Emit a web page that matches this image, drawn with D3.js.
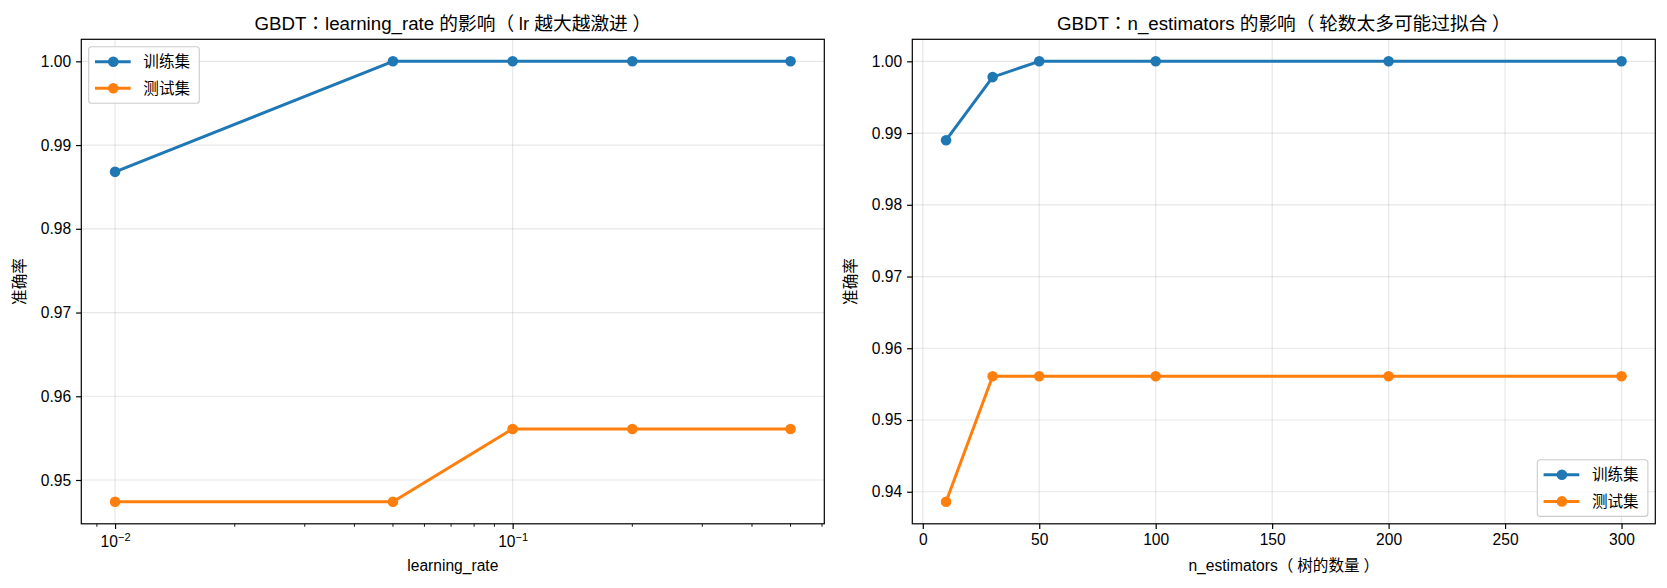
<!DOCTYPE html>
<html>
<head>
<meta charset="utf-8">
<script src="https://cdn.jsdelivr.net/npm/d3@7"></script>
<style>
  body { margin: 0; background: #fff; }
  text { font-family: "Liberation Sans", "Noto Sans CJK SC", sans-serif; fill: #000; }
  tspan.punct { font-family: "Noto Sans CJK TC", "Noto Sans CJK SC", sans-serif; }
</style>
</head>
<body>
<div id="chart"></div>
<script>
// data
var lrValues = [0.01, 0.05, 0.1, 0.2, 0.5];
var lrTrain = [0.9868, 1.0, 1.0, 1.0, 1.0];
var lrTest = [0.9474, 0.9474, 0.9561, 0.9561, 0.9561];

var nEstValues = [10, 30, 50, 100, 200, 300];
var nEstTrain = [0.9890, 0.9978, 1.0, 1.0, 1.0, 1.0];
var nEstTest = [0.9386, 0.9561, 0.9561, 0.9561, 0.9561, 0.9561];

var seriesNames = ["训练集", "测试集"];
var colors = ["#1f77b4", "#ff7f0e"];

var lrYTicks = [0.95, 0.96, 0.97, 0.98, 0.99, 1.00];
var nEstYTicks = [0.94, 0.95, 0.96, 0.97, 0.98, 0.99, 1.00];
var lrXTicks = [0.01, 0.1];
var lrXTickExp = ["−2", "−1"];
var nEstXTicks = [0, 50, 100, 150, 200, 250, 300];

var W = 1667, H = 588;
var plotTop = 39.3, plotH = 484.5, plotW = 743;
var fs = 15.6, titleFs = 18.7;

var svg = d3.select("#chart").append("svg")
    .attr("width", W)
    .attr("height", H);

// matplotlib style 5% margins
function padded(lo, hi) {
    var m = (hi - lo) * 0.05;
    return [lo - m, hi + m];
}

// full-width punctuation: centred colon, a bit of air inside the brackets
function setText(sel, str) {
    var pad = 0;
    str.split(/([：（）])/).filter(s => s.length).forEach(function(part) {
        var ts = sel.append("tspan").text(part);
        if (part === "：") {
            ts.attr("class", "punct");
            pad = 0;
        } else if (part === "（") {
            ts.attr("class", "punct");
            pad = 0.25;
        } else if (part === "）") {
            ts.attr("class", "punct").attr("dx", "0.25em");
            pad = 0;
        } else if (pad) {
            ts.attr("dx", pad + "em");
            pad = 0;
        }
    });
}

function drawPanel(p) {
    var g = svg.append("g").attr("transform", `translate(${p.left},${plotTop})`);

    var x;
    if (p.log) {
        var ld = padded(Math.log10(d3.min(p.xs)), Math.log10(d3.max(p.xs)));
        x = d3.scaleLog().domain([Math.pow(10, ld[0]), Math.pow(10, ld[1])]).range([0, plotW]);
    } else {
        x = d3.scaleLinear().domain(padded(d3.min(p.xs), d3.max(p.xs))).range([0, plotW]);
    }
    var allY = p.train.concat(p.test);
    var y = d3.scaleLinear().domain(padded(d3.min(allY), d3.max(allY))).range([plotH, 0]);

    // grid
    g.selectAll(".gx").data(p.xTicks).join("line")
        .attr("x1", d => x(d)).attr("x2", d => x(d))
        .attr("y1", 0).attr("y2", plotH)
        .attr("stroke", "#b0b0b0").attr("stroke-opacity", 0.3).attr("stroke-width", 1.2);
    g.selectAll(".gy").data(p.yTicks).join("line")
        .attr("x1", 0).attr("x2", plotW)
        .attr("y1", d => y(d)).attr("y2", d => y(d))
        .attr("stroke", "#b0b0b0").attr("stroke-opacity", 0.3).attr("stroke-width", 1.2);

    // lines + markers
    [p.train, p.test].forEach(function(vals, i) {
        var pts = p.xs.map((v, k) => [v, vals[k]]);
        g.append("path")
            .datum(pts)
            .attr("fill", "none")
            .attr("stroke", colors[i])
            .attr("stroke-width", 3)
            .attr("stroke-linejoin", "round")
            .attr("d", d3.line().x(d => x(d[0])).y(d => y(d[1])));
        g.append("g").selectAll("circle").data(pts).join("circle")
            .attr("cx", d => x(d[0]))
            .attr("cy", d => y(d[1]))
            .attr("r", 5.3)
            .attr("fill", colors[i]);
    });

    // y axis
    var ya = g.append("g")
        .call(d3.axisLeft(y).tickValues(p.yTicks).tickFormat(d3.format(".2f")).tickSize(5.2).tickPadding(5));
    ya.select(".domain").remove();
    ya.selectAll("line").attr("stroke-width", 1.2);
    ya.selectAll("text").style("font-size", fs + "px");

    // x axis
    var xa = g.append("g").attr("transform", `translate(0,${plotH})`)
        .call(d3.axisBottom(x).tickValues(p.xTicks).tickSize(5.2).tickPadding(5)
            .tickFormat(p.log ? () => "" : d3.format("d")));
    xa.select(".domain").remove();
    xa.selectAll("line").attr("stroke-width", 1.2);
    xa.selectAll("text").style("font-size", fs + "px");

    if (p.log) {
        // 10^n labels
        xa.selectAll(".tick text").each(function(d, i) {
            var t = d3.select(this).attr("y", 12.5);
            t.append("tspan").text("10");
            t.append("tspan").text(lrXTickExp[i])
                .attr("dy", "-0.55em")
                .style("font-size", "11px");
        });
        // minor ticks
        var dom = x.domain();
        var minors = x.ticks().filter(v => v >= dom[0] && v <= dom[1] && p.xTicks.indexOf(v) < 0);
        xa.selectAll(".minor").data(minors).join("line")
            .attr("x1", d => x(d)).attr("x2", d => x(d))
            .attr("y1", 0).attr("y2", 3)
            .attr("stroke", "#000").attr("stroke-width", 0.9);
    }

    // frame
    g.append("rect")
        .attr("width", plotW).attr("height", plotH)
        .attr("fill", "none").attr("stroke", "#000").attr("stroke-width", 1.2);

    // title and labels
    var title = g.append("text")
        .attr("x", plotW / 2).attr("y", -9.3)
        .attr("text-anchor", "middle")
        .style("font-size", titleFs + "px");
    setText(title, p.title);
    var xl = g.append("text")
        .attr("x", plotW / 2).attr("y", plotH + 47.5)
        .attr("text-anchor", "middle")
        .style("font-size", fs + "px");
    setText(xl, p.xLabel);
    g.append("text")
        .attr("transform", `translate(-56.5,${plotH / 2}) rotate(-90)`)
        .attr("text-anchor", "middle")
        .style("font-size", fs + "px")
        .text("准确率");

    // legend
    var lw = 110.6, lh = 56.6;
    var lx = p.legendRight ? plotW - 7.4 - lw : 7.4;
    var ly = p.legendRight ? plotH - 7.4 - lh : 7.4;
    var lg = g.append("g").attr("transform", `translate(${lx},${ly})`);
    lg.append("rect")
        .attr("width", lw).attr("height", lh).attr("rx", 3)
        .attr("fill", "#fff").attr("fill-opacity", 0.8)
        .attr("stroke", "#cccccc").attr("stroke-width", 1.1);
    seriesNames.forEach(function(name, i) {
        var ry = 15 + i * 26.6;
        lg.append("line")
            .attr("x1", 6.3).attr("x2", 42)
            .attr("y1", ry).attr("y2", ry)
            .attr("stroke", colors[i]).attr("stroke-width", 3);
        lg.append("circle")
            .attr("cx", 24.6).attr("cy", ry).attr("r", 5.3)
            .attr("fill", colors[i]);
        lg.append("text")
            .attr("x", 54.6).attr("y", ry)
            .attr("dy", "0.36em")
            .style("font-size", fs + "px")
            .text(name);
    });
}

drawPanel({
    left: 81.3,
    xs: lrValues, train: lrTrain, test: lrTest,
    log: true,
    xTicks: lrXTicks, yTicks: lrYTicks,
    title: "GBDT：learning_rate 的影响（lr 越大越激进）",
    xLabel: "learning_rate",
    legendRight: false
});

drawPanel({
    left: 912.3,
    xs: nEstValues, train: nEstTrain, test: nEstTest,
    log: false,
    xTicks: nEstXTicks, yTicks: nEstYTicks,
    title: "GBDT：n_estimators 的影响（轮数太多可能过拟合）",
    xLabel: "n_estimators（树的数量）",
    legendRight: true
});
</script>
</body>
</html>
